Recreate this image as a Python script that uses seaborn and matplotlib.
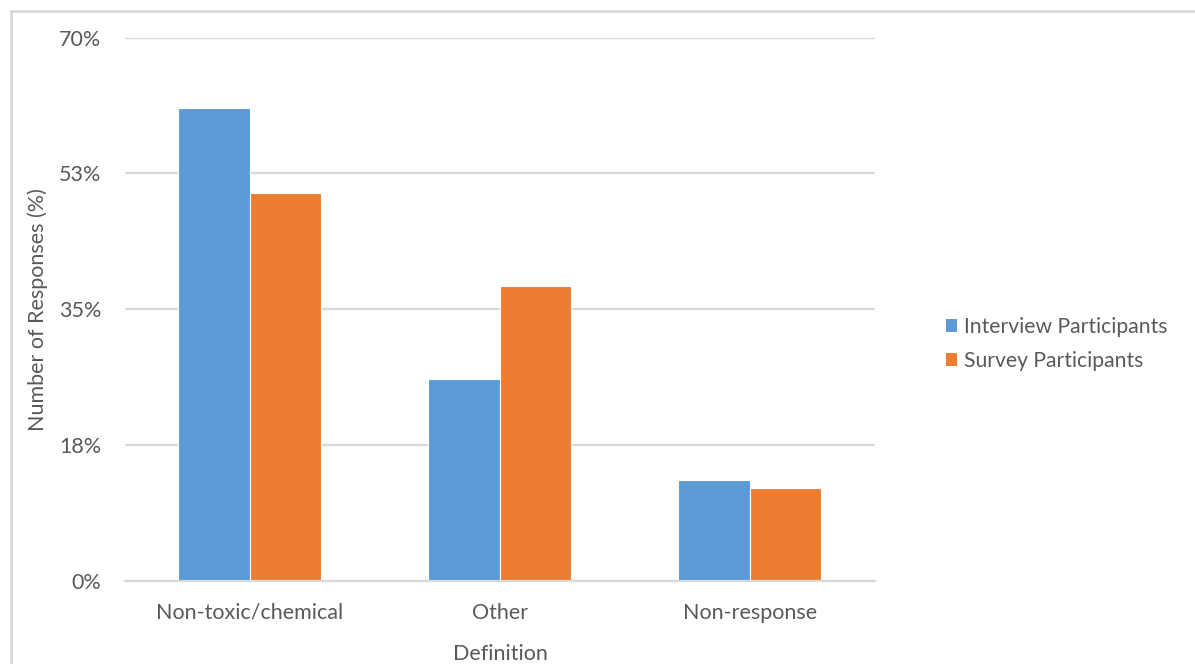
import matplotlib
matplotlib.use("Agg")
import matplotlib.pyplot as plt
import matplotlib.patches as mpatches
import seaborn as sns
import pandas as pd

categories = ["Non-toxic/chemical", "Other", "Non-response"]
interview = [61, 26, 13]
survey = [50, 38, 12]
series_names = ["Interview Participants", "Survey Participants"]
y_ticks = [0, 17.5, 35, 52.5, 70]
y_tick_labels = ["0%", "18%", "35%", "53%", "70%"]

colors = ["#5B9BD5", "#ED7D31"]
text_color = "#595959"
grid_color = "#D9D9D9"

df = pd.DataFrame({
    "Definition": categories * 2,
    "Percent": interview + survey,
    "Group": [series_names[0]] * len(categories) + [series_names[1]] * len(categories),
})

sns.set_theme(style="white")
plt.rcParams["font.family"] = ["Lato", "DejaVu Sans"]

fig = plt.figure(figsize=(11.95, 6.64), dpi=100)
ax = fig.add_axes([0.1046, 0.1255, 0.6276, 0.8177])

sns.barplot(data=df, x="Definition", y="Percent", hue="Group",
            palette=colors, saturation=1, width=0.572, gap=0,
            edgecolor="white", linewidth=0.8, ax=ax, legend=False, zorder=3)

ax.set_xlim(-0.5, 2.5)
ax.set_ylim(0, 70)
ax.set_yticks(y_ticks)
ax.set_yticklabels(y_tick_labels)
ax.yaxis.grid(True, color=grid_color, linewidth=1.6, zorder=0)
ax.set_axisbelow(True)
for side in ["top", "right", "left"]:
    ax.spines[side].set_visible(False)
ax.spines["bottom"].set_color(grid_color)
ax.spines["bottom"].set_linewidth(1.6)
ax.spines["bottom"].set_zorder(4)

fs = 15.5
ax.tick_params(axis="both", length=0, labelsize=fs, labelcolor=text_color)
ax.tick_params(axis="y", pad=17)
ax.tick_params(axis="x", pad=16)
ax.set_xlabel("Definition", fontsize=fs, color=text_color, labelpad=15)
ax.set_ylabel("Number of Responses (%)", fontsize=fs, color=text_color)
ax.yaxis.label.set_verticalalignment("center")
ax.yaxis.set_label_coords(-0.117, 0.5)

handles = [mpatches.Patch(facecolor=c, edgecolor="none", label=n)
           for c, n in zip(colors, series_names)]
fig.legend(handles=handles, loc="center left",
           bbox_to_anchor=(0.790 - 9 / 1195, 0.482), frameon=False,
           fontsize=15.2, labelcolor=text_color,
           handlelength=0.55, handleheight=0.55, handletextpad=0.3,
           labelspacing=0.65, borderpad=0)

# light frame along the top and left edges of the chart area
fig.add_artist(plt.Line2D([0.0092, 1.0], [0.9834, 0.9834], transform=fig.transFigure,
                          color=grid_color, linewidth=2))
fig.add_artist(plt.Line2D([0.0092, 0.0092], [0.0, 0.9834], transform=fig.transFigure,
                          color=grid_color, linewidth=2))

fig.savefig("out.png", dpi=100, facecolor="white")
